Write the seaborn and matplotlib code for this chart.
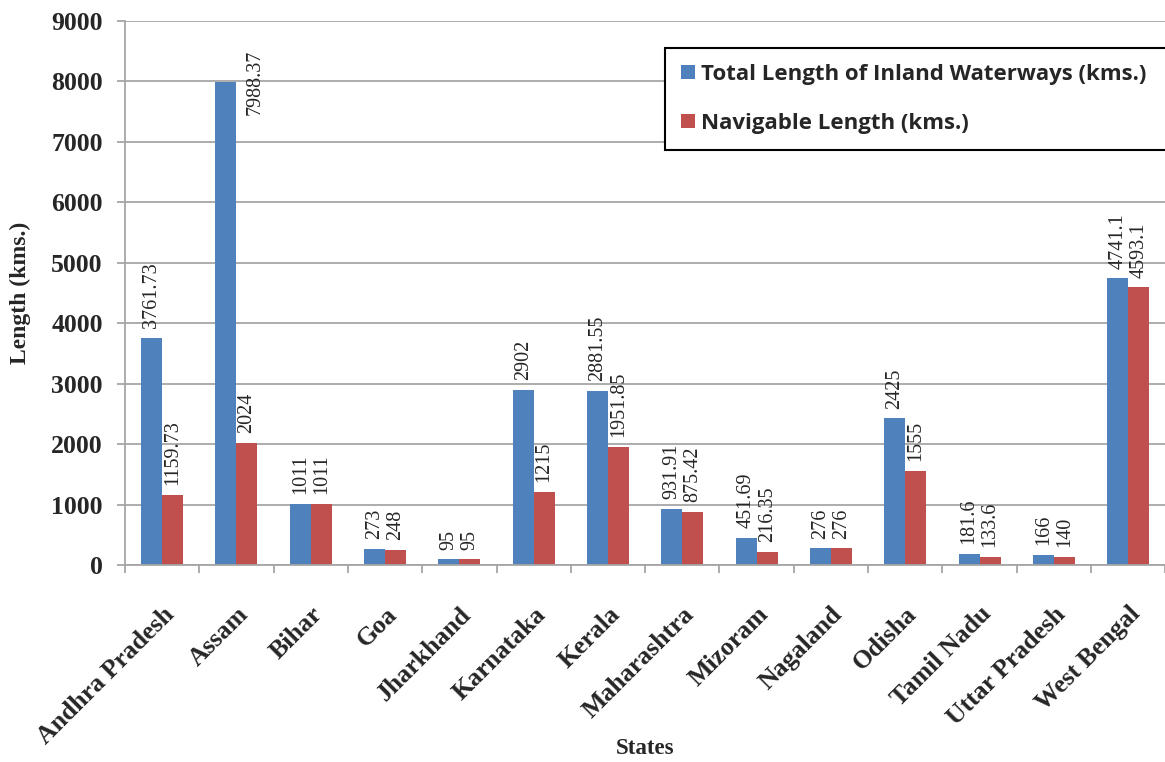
import numpy as np
import pandas as pd
import matplotlib
matplotlib.use("Agg")
import matplotlib.pyplot as plt
import seaborn as sns

# Inland waterways by state (kms.)
states = ["Andhra Pradesh", "Assam", "Bihar", "Goa", "Jharkhand", "Karnataka",
          "Kerala", "Maharashtra", "Mizoram", "Nagaland", "Odisha",
          "Tamil Nadu", "Uttar Pradesh", "West Bengal"]
total_length = [3761.73, 7988.37, 1011, 273, 95, 2902, 2881.55, 931.91,
                451.69, 276, 2425, 181.6, 166, 4741.1]
navigable_length = [1159.73, 2024, 1011, 248, 95, 1215, 1951.85, 875.42,
                    216.35, 276, 1555, 133.6, 140, 4593.1]
series_names = ["Total Length of Inland Waterways (kms.)",
                "Navigable Length (kms.)"]
y_ticks = [0, 1000, 2000, 3000, 4000, 5000, 6000, 7000, 8000, 9000]

BLUE = "#4F81BD"
RED = "#C0504D"
GRID = "#a6a6a6"
SERIF = "Liberation Serif"

df = pd.DataFrame({
    "State": states * 2,
    "Length": total_length + navigable_length,
    "Series": [series_names[0]] * len(states) + [series_names[1]] * len(states),
})

sns.set_style("white")
plt.rcParams["font.family"] = [SERIF, "DejaVu Serif"]

fig = plt.figure(figsize=(11.65, 7.62), dpi=100)
ax = fig.add_axes([0.1073, 0.2585, 0.893, 0.7139])

sns.barplot(data=df, x="State", y="Length", hue="Series", order=states,
            hue_order=series_names, palette=[BLUE, RED], width=0.565, gap=0,
            saturation=1, linewidth=0, ax=ax)

ax.set_xlim(-0.5, len(states) - 0.5)
ax.set_ylim(0, 9000)
ax.set_yticks(y_ticks)
ax.set_yticklabels([str(t) for t in y_ticks], fontsize=18.5, fontweight="bold",
                   family=SERIF)
ax.yaxis.grid(True, color=GRID, linewidth=1.3)
ax.set_axisbelow(True)
ax.tick_params(axis="y", which="major", length=6, width=1.3, color=GRID,
               direction="out", pad=10, left=True)

# category labels, ticks drawn between the groups
ax.set_xticks(range(len(states)))
ax.set_xticklabels(states, rotation=45, ha="right", rotation_mode="anchor",
                   fontsize=18.5, fontweight="bold", family=SERIF)
ax.set_xticks(np.arange(-0.5, len(states), 1.0), minor=True)
ax.tick_params(axis="x", which="major", length=0, pad=27)
ax.tick_params(axis="x", which="minor", length=6, width=1.3, color=GRID,
               direction="out", bottom=True)

for side in ("top", "right"):
    ax.spines[side].set_visible(False)
for side in ("left", "bottom"):
    ax.spines[side].set_color(GRID)
    ax.spines[side].set_linewidth(1.3)

ax.set_xlabel("")
ax.set_ylabel("")

# value labels above every bar
for cont, vals in zip(ax.containers, [total_length, navigable_length]):
    for state, bar, v in zip(states, cont, vals):
        cx = bar.get_x() + bar.get_width() / 2
        top = bar.get_height()
        if top > 7000:
            # no room above: set beside the bar top
            ax.annotate(f"{v:g}", (cx, top), xytext=(21, 0),
                        textcoords="offset points", rotation=90,
                        ha="center", va="center", fontsize=14.5,
                        family=SERIF, annotation_clip=False)
        else:
            ax.annotate(f"{v:g}", (cx, top), xytext=(0, 7),
                        textcoords="offset points", rotation=90,
                        ha="center", va="bottom", fontsize=14.5,
                        family=SERIF, annotation_clip=False)

fig.text(20 / 1165, 1 - 293 / 762, "Length (kms.)", rotation=90,
         ha="center", va="center", fontsize=17, fontweight="bold", family=SERIF)
fig.text(645 / 1165, 1 - 748 / 762, "States", ha="center", va="center",
         fontsize=16.5, fontweight="bold", family=SERIF)

handles, labels = ax.get_legend_handles_labels()
leg = ax.legend(handles, labels, loc="upper left",
                bbox_to_anchor=(665 / 1165, 1 - 148 / 762, 0.5, 100 / 762),
                bbox_transform=fig.transFigure, mode="expand",
                prop={"family": "Open Sans", "weight": "bold", "size": 16},
                frameon=True, fancybox=False, framealpha=1, edgecolor="black",
                borderpad=0.73, labelspacing=1.25, handlelength=0.6,
                handleheight=0.6, handletextpad=0.3, borderaxespad=0)
leg.get_frame().set_linewidth(1.5)

fig.savefig("out.png", dpi=100)
